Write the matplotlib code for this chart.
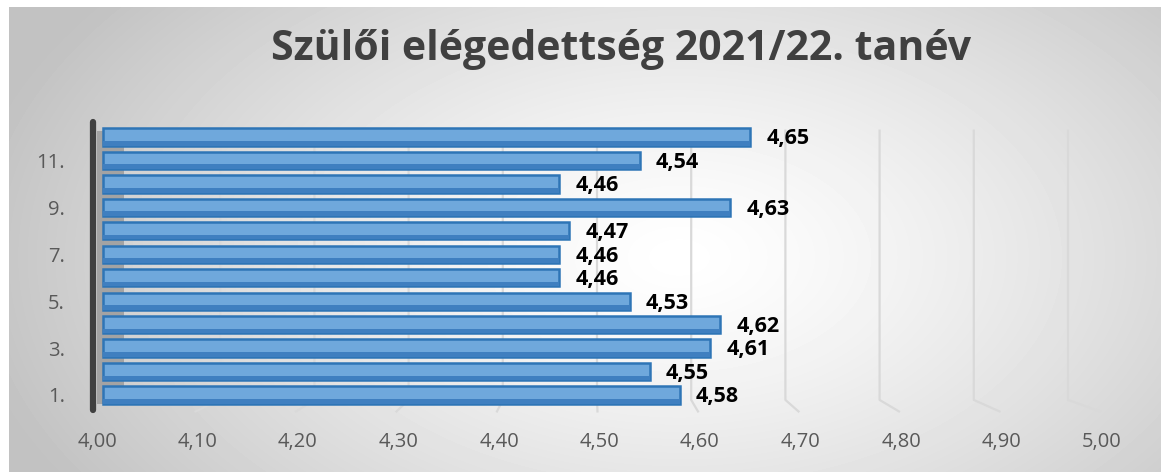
import numpy as np
import matplotlib
matplotlib.use("Agg")
import matplotlib.pyplot as plt
import matplotlib.transforms as mtrans

# data
categories = [1, 2, 3, 4, 5, 6, 7, 8, 9, 10, 11, 12]
values = [4.58, 4.55, 4.61, 4.62, 4.53, 4.46, 4.46, 4.47, 4.63, 4.46, 4.54, 4.65]
x_ticks = [4.0, 4.1, 4.2, 4.3, 4.4, 4.5, 4.6, 4.7, 4.8, 4.9, 5.0]
y_ticks = [1, 3, 5, 7, 9, 11]
y_labels = ["1.", "3.", "5.", "7.", "9.", "11."]
title = "Szülői elégedettség 2021/22. tanév"

W, H = 1161, 472
base = 4.006  # bars start a bit in front of the side wall

fig = plt.figure(figsize=(W / 100, H / 100), dpi=100)
fig.patch.set_facecolor("white")
plt.rcParams["font.family"] = ["Open Sans", "DejaVu Sans"]

# radial gray background of the chart area
bg = fig.add_axes([9 / W, 0, 1 - 9 / W, 1 - 7 / H])
bg.set_axis_off()
yy, xx = np.mgrid[0:465, 0:1152]
r = np.sqrt(((xx - 670) / 720.0) ** 2 + ((yy - 250) / 430.0) ** 2)
r = np.clip(r, 0, 1)
shade = 1.0 - (1.0 - 0.76) * r ** 1.3
bg.imshow(shade, cmap="gray", vmin=0, vmax=1, aspect="auto", interpolation="bilinear")

fig.text(621 / W, 1 - 49 / H, title, ha="center", va="center",
         fontsize=29.5, fontweight="bold", color="#404040")

ax = fig.add_axes([97 / W, (H - 410) / H, 1005 / W, 288 / H])
ax.patch.set_alpha(0)
ax.set_xlim(4.0, 5.0)
ax.set_ylim(0.36, 12.64)

# back wall gridlines with floor slant (3d look)
trans = mtrans.blended_transform_factory(ax.transData, ax.transAxes)
for v in x_ticks[1:]:
    xb = 4.0 + 29 / 1005 + (v - 4.0) * 942 / 1005
    ax.plot([xb, xb, v - 0.002], [0.97, 0.035, -0.005], transform=trans,
            color="#d9d9d9", lw=1.6, zorder=0, clip_on=False)

# left side wall
ax.axvspan(4.0, 4.027, ymin=0.02, ymax=0.97, color="#a3a3a3", zorder=0.5, lw=0)

widths = [v - base for v in values]
ax.barh(categories, widths, left=base, height=0.74,
        color="#6fa8dc", edgecolor="#2e75b6", linewidth=1.8, zorder=2)
# darker lower face of each bar
ax.barh([c - 0.27 for c in categories], widths, left=base, height=0.2,
        color="#3f7fc0", linewidth=0, zorder=2.1)

for c, v in zip(categories, values):
    ax.text(v + 0.016, c - 0.08, f"{v:.2f}".replace(".", ","), ha="left", va="center",
            fontsize=15.5, fontweight="bold", color="black", zorder=3)

ax.set_yticks(y_ticks)
ax.set_yticklabels(y_labels)
ax.set_xticks(x_ticks)
ax.set_xticklabels([f"{t:.2f}".replace(".", ",") for t in x_ticks])
ax.tick_params(axis="y", length=0, pad=20, labelsize=14.5, labelcolor="#595959")
ax.tick_params(axis="x", length=0, pad=16, labelsize=14.5, labelcolor="#595959")

for s in ["top", "right", "bottom"]:
    ax.spines[s].set_visible(False)
ax.spines["left"].set_position(("outward", 3))
ax.spines["left"].set_linewidth(4.5)
ax.spines["left"].set_color("#404040")
ax.spines["left"].set_capstyle("round")

fig.savefig("out.png", dpi=100)
